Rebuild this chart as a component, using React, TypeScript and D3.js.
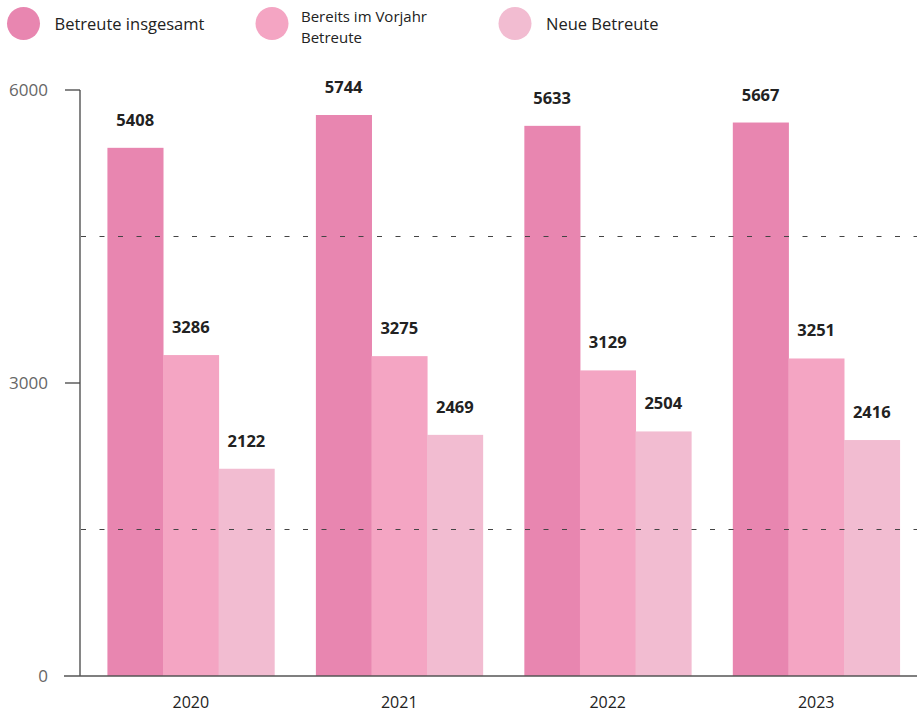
import React from "react";
import * as d3 from "d3";

const years = ["2020", "2021", "2022", "2023"];
const seriesNames = ["Betreute insgesamt", "Bereits im Vorjahr Betreute", "Neue Betreute"];
const legendLines = [["Betreute insgesamt"], ["Bereits im Vorjahr", "Betreute"], ["Neue Betreute"]];
const insgesamt = [5408, 5744, 5633, 5667];
const vorjahr = [3286, 3275, 3129, 3251];
const neue = [2122, 2469, 2504, 2416];
const yTicks = [0, 3000, 6000];
const gridValues = [1500, 4500];
const colors = ["#e886b0", "#f4a5c3", "#f2bcd1"];

const W = 917;
const H = 713;
const FONT = "'Open Sans', 'Noto Sans', sans-serif";

export default function App() {
  const series = [insgesamt, vorjahr, neue];
  const y = d3.scaleLinear().domain([0, 6000]).range([676, 90]);
  const x0 = d3.scaleBand<string>().domain(years).range([97, 910]).paddingInner(0.2).paddingOuter(0.05);
  const x1 = d3.scaleBand<number>().domain([0, 1, 2]).range([0, x0.bandwidth()]).padding(0);

  const legendX = [23.5, 272, 515];

  return (
    <svg width={W} height={H} style={{ position: "absolute", left: 0, top: 0 }} fontFamily={FONT}>
      <rect x={0} y={0} width={W} height={H} fill="#fff" />
      {/* legend */}
      {seriesNames.map((name, i) => (
        <g key={name}>
          <circle cx={legendX[i]} cy={23.5} r={16.5} fill={colors[i]} />
          {legendLines[i].length > 1 ? (
            legendLines[i].map((ln, li) => (
              <text key={ln} x={legendX[i] + 29} y={22 + li * 20.5} fontSize={15} fill="#222">{ln}</text>
            ))
          ) : (
            <text x={legendX[i] + 31} y={30} fontSize={16.5} fill="#222">{name}</text>
          )}
        </g>
      ))}
      {/* bars */}
      {years.map((yr, gi) => (
        <g key={yr} transform={`translate(${x0(yr)},0)`}>
          {series.map((s, si) => (
            <rect key={si} x={x1(si)} y={y(s[gi])} width={x1.bandwidth() + 0.5} height={y(0) - y(s[gi])} fill={colors[si]} />
          ))}
          {series.map((s, si) => (
            <text key={"t" + si} x={(x1(si) as number) + x1.bandwidth() / 2} y={y(s[gi]) - 22} textAnchor="middle" fontSize={16.5} fontWeight={700} fill="#222">{s[gi]}</text>
          ))}
        </g>
      ))}
      {/* dashed grid on top */}
      {gridValues.map((v) => (
        <line key={v} x1={81} x2={917} y1={y(v)} y2={y(v)} stroke="#444" strokeWidth={1} strokeDasharray="5,13.5" />
      ))}
      {/* axis */}
      <line x1={80} x2={80} y1={y(6000)} y2={y(0)} stroke="#444" strokeWidth={1.3} />
      {yTicks.filter((t) => t > 0).map((t) => (
        <line key={t} x1={65} x2={80} y1={y(t)} y2={y(t)} stroke="#444" strokeWidth={1.3} />
      ))}
      <line x1={64} x2={917} y1={y(0)} y2={y(0)} stroke="#555" strokeWidth={1.6} />
      {yTicks.map((t) => (
        <text key={t} x={48} y={y(t) + 6} textAnchor="end" fontSize={17} fill="#666">{t}</text>
      ))}
      {years.map((yr) => (
        <text key={yr} x={(x0(yr) as number) + x0.bandwidth() / 2} y={708} textAnchor="middle" fontSize={16} fill="#222">{yr}</text>
      ))}
    </svg>
  );
}
